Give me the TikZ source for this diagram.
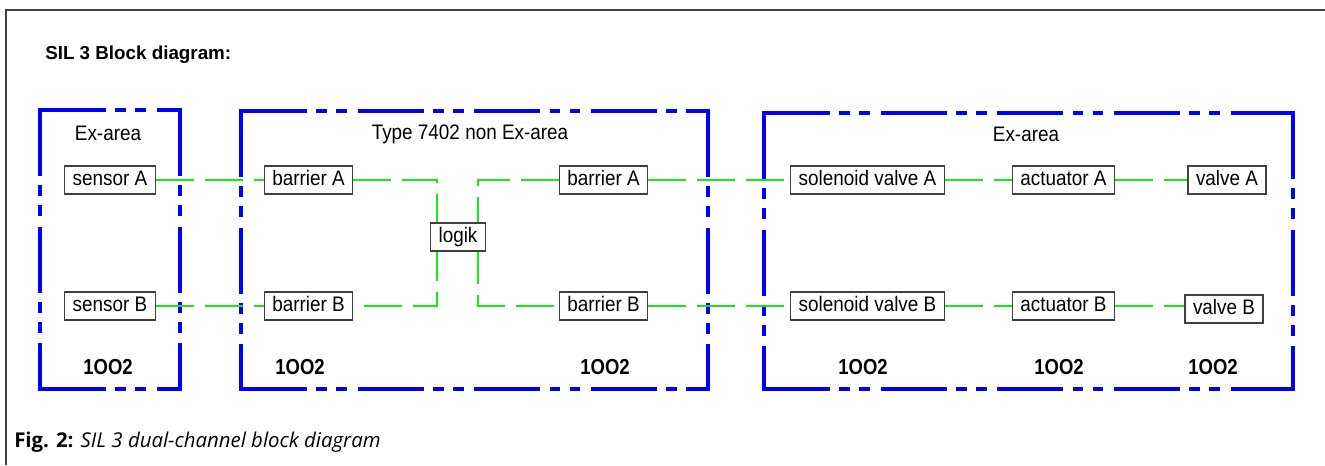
\documentclass[tikz,border=0pt]{standalone}
\usepackage{fontspec}
\setmainfont{Liberation Sans}
\newfontfamily\capfont{Open Sans}
\newfontfamily\nodefont[FakeStretch=0.9]{Liberation Sans}
\newfontfamily\oofont[FakeStretch=0.85]{Liberation Sans}
\usetikzlibrary{backgrounds}
\definecolor{bl}{RGB}{0,0,255}
\definecolor{gr}{RGB}{20,235,20}
\newcommand\areabox[4]{%
  \draw[area] (#1,#2) -- (#3,#2);
  \draw[area] (#1,#2) -- (#1,#4);
  \draw[area] (#3,#2) -- (#3,#4);
  \draw[area] (#1,#4) -- (#3,#4);
  \draw[areasolid] (#1+15,#2) -- (#1,#2) -- (#1,#2+15);
  \draw[areasolid] (#3-15,#2) -- (#3,#2) -- (#3,#2+15);
  \draw[areasolid] (#1+15,#4) -- (#1,#4) -- (#1,#4-15);
  \draw[areasolid] (#3-15,#4) -- (#3,#4) -- (#3,#4-15);
}
\begin{document}
\begin{tikzpicture}[x=0.75pt,y=-0.75pt,
  blk/.style={draw=black!75, line width=0.9pt, fill=white,
    font=\nodefont\fontsize{15.75}{17}\selectfont, inner xsep=6pt, inner ysep=3.75pt,
    text height=10.5pt, text depth=3pt},
  area/.style={draw=bl, line width=3pt,
    dash pattern=on 49.5pt off 7pt on 8pt off 7pt on 8pt off 8pt},
  areasolid/.style={draw=bl, line width=3pt, line join=miter},
  link/.style={draw=gr, line width=1.5pt, dash pattern=on 28.5pt off 8.25pt},
  lbl/.style={font=\nodefont\fontsize{15.75}{17}\selectfont, anchor=base, inner sep=0pt},
  oo/.style={font=\oofont\bfseries\fontsize{16.3}{18}\selectfont, anchor=base, inner sep=0pt}
]
\useasboundingbox (0,0) rectangle (1325,465);

% outer frame
\draw[black!75, line width=1.1pt] (1325,10) -- (6,10) -- (6,465);

% title and caption
\node[anchor=base west, inner sep=0pt, font=\bfseries\fontsize{14.1}{16}\selectfont] (title) at (45,59) {SIL 3 Block diagram:};
\node[anchor=base west, inner sep=0pt, font=\capfont\fontsize{15.3}{17}\selectfont] (caption) at (14,447) {\textbf{Fig. 2:} \textit{SIL 3 dual-channel block diagram}};

% blocks
\node[blk] (sA) at (110,180) {sensor A};
\node[blk] (sB) at (110,306) {sensor B};
\node[blk] (bA1) at (308.5,180) {barrier A};
\node[blk] (bB1) at (308.5,306) {barrier B};
\node[blk] (lg) at (458,237) {logik};
\node[blk] (bA2) at (603.5,180) {barrier A};
\node[blk] (bB2) at (603.5,306) {barrier B};
\node[blk] (svA) at (867.5,180) {solenoid valve A};
\node[blk] (svB) at (867.5,306) {solenoid valve B};
\node[blk] (acA) at (1063.5,180) {actuator A};
\node[blk] (acB) at (1063.5,306) {actuator B};
\node[blk] (vA) at (1227,180) {valve A};
\node[blk] (vB) at (1224,309) {valve B};

% area labels
\node[lbl] (t1) at (108,140) {Ex-area};
\node[lbl] (t2) at (470,139) {Type 7402 non Ex-area};
\node[lbl] (t3) at (1026,141) {Ex-area};
\node[oo] (o1) at (108,374) {1OO2};
\node[oo] (o2) at (300,374) {1OO2};
\node[oo] (o3) at (605,374) {1OO2};
\node[oo] (o4) at (863,374) {1OO2};
\node[oo] (o5) at (1059,374) {1OO2};
\node[oo] (o6) at (1213,374) {1OO2};

\coordinate (jL) at (437,237);
\coordinate (jR) at (478,237);

\begin{pgfonlayer}{background}
  \areabox{40}{110}{180}{389}
  \areabox{241}{111}{708}{389}
  \areabox{764}{113}{1293}{389}

  \draw[link] (sA) -- (bA1);
  \draw[link] (sB) -- (bB1);
  \draw[link] (bA1.east) -| (jL) |- (bB1.east);
  \draw[link] (bA2.west) -| (jR) |- (bB2.west);
  \draw[link] (bA2) -- (svA);
  \draw[link] (bB2) -- (svB);
  \draw[link] (svA) -- (acA);
  \draw[link] (svB) -- (acB);
  \draw[link] (acA) -- (vA);
  \draw[link] (acB.east) -- (acB.east -| vB.west);
\end{pgfonlayer}
\end{tikzpicture}
\end{document}
